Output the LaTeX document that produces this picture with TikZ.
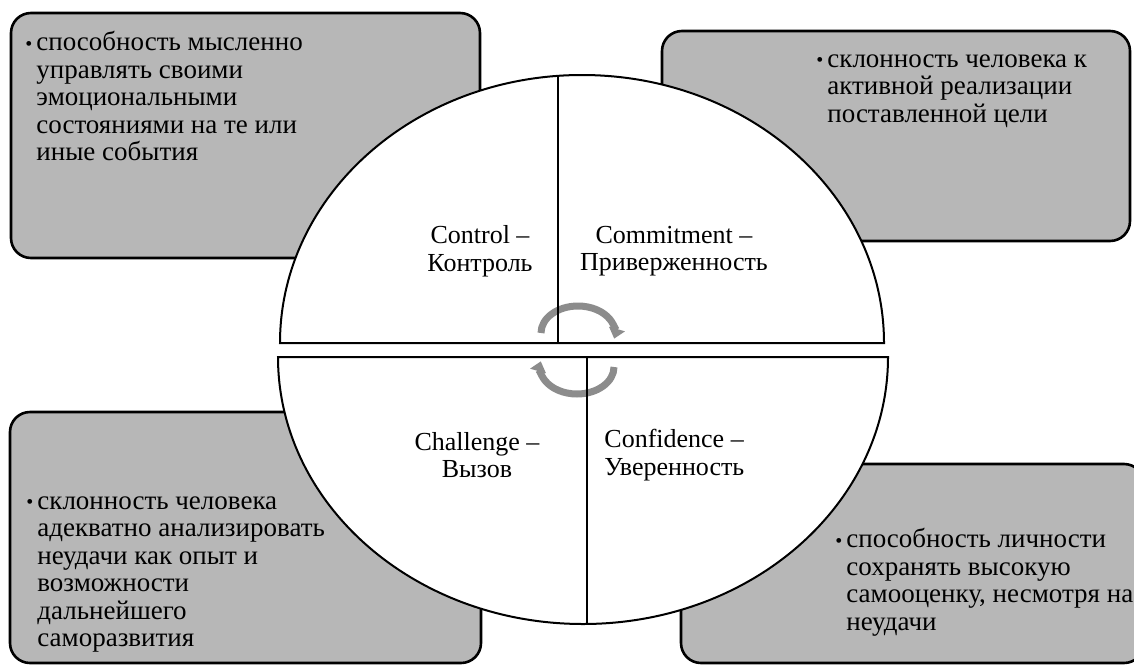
\documentclass[tikz,border=0pt]{standalone}
\usepackage{fontspec}
\setmainfont{Liberation Serif}
\usepackage{tikz}
\definecolor{white}{rgb}{1.0, 1.0, 1.0}
\definecolor{black}{rgb}{0.0, 0.0, 0.0}
\definecolor{boxgr}{RGB}{183, 183, 183}
\definecolor{arrgr}{RGB}{140, 140, 140}
\usetikzlibrary{arrows.meta}
\pgfdeclarelayer{boxlayer}
\pgfsetlayers{boxlayer,main}
\tikzstyle{box}=[fill=boxgr,draw=black,line width=1.3pt,rounded corners=10pt]
\tikzstyle{half}=[fill=white,draw=black,line width=1pt]
\tikzstyle{txt}=[anchor=north west,align=left,inner sep=0pt,font=\fontsize{13.5}{13.75}\selectfont]
\tikzstyle{lbl}=[align=center,inner sep=0pt,font=\fontsize{13}{13.75}\selectfont]
\tikzstyle{cyc}=[draw=arrgr,line width=3.5pt,-{Triangle[width=8pt,length=5pt]}]
\newcommand{\bul}{\llap{\raisebox{0.02em}{\fontsize{10}{10}\selectfont\textbullet}\hspace{2pt}}}

\begin{document}
\begin{tikzpicture}[x=0.5pt,y=-0.5pt]
        \useasboundingbox (0,0) rectangle (1134,664);

        \begin{pgfonlayer}{boxlayer}
            \draw [style = box] (11, 13) rectangle (480, 258);
            \draw [style = box] (662, 31) rectangle (1130, 241);
            \draw [style = box] (10, 412) rectangle (481, 663);
            \draw [style = box] (681, 464) rectangle (1144, 663);
        \end{pgfonlayer}

        % two halves of the cycle
        \draw [style = half] (280, 343) arc [start angle=180, end angle=360, x radius=302, y radius=268] -- cycle;
        \draw [style = half] (888, 357) arc [start angle=0, end angle=180, x radius=305, y radius=267] -- cycle;

        % cycle arrows
        \draw [style = cyc] (541, 333) arc [start angle=180, end angle=372, x radius=37, y radius=27];
        \draw [style = cyc] (614, 367) arc [start angle=0, end angle=192, x radius=37, y radius=27];

        \coordinate (utop) at (558, 76);
        \coordinate (ubot) at (558, 343);
        \coordinate (ltop) at (587, 357);
        \coordinate (lbot) at (587, 624);
        \draw [style = half] (ubot) -- (utop);
        \draw [style = half] (ltop) -- (lbot);

        \node [style = lbl] (ctrl) at (480, 251) {Control –\\Контроль};
        \node [style = lbl] (comm) at (674, 251) {Commitment –\\Приверженность};
        \node [style = lbl] (chal) at (477, 455) {Challenge –\\Вызов};
        \node [style = lbl, anchor=west, align=left] (conf) at (604, 455) {Confidence –\\Уверенность};

        \node [style = txt] (ctrltxt) at (36, 31) {\bul способность мысленно\\управлять своими\\эмоциональными\\состояниями на те или\\иные события};
        \node [style = txt] (commtxt) at (827, 54) {\bul склонность человека к\\активной реализации\\поставленной цели};
        \node [style = txt] (chaltxt) at (37, 496) {\bul склонность человека\\адекватно анализировать\\неудачи как опыт и\\возможности\\дальнейшего\\саморазвития};
        \node [style = txt] (conftxt) at (846, 528) {\bul способность личности\\сохранять высокую\\самооценку, несмотря на\\неудачи};
\end{tikzpicture}
\end{document}
